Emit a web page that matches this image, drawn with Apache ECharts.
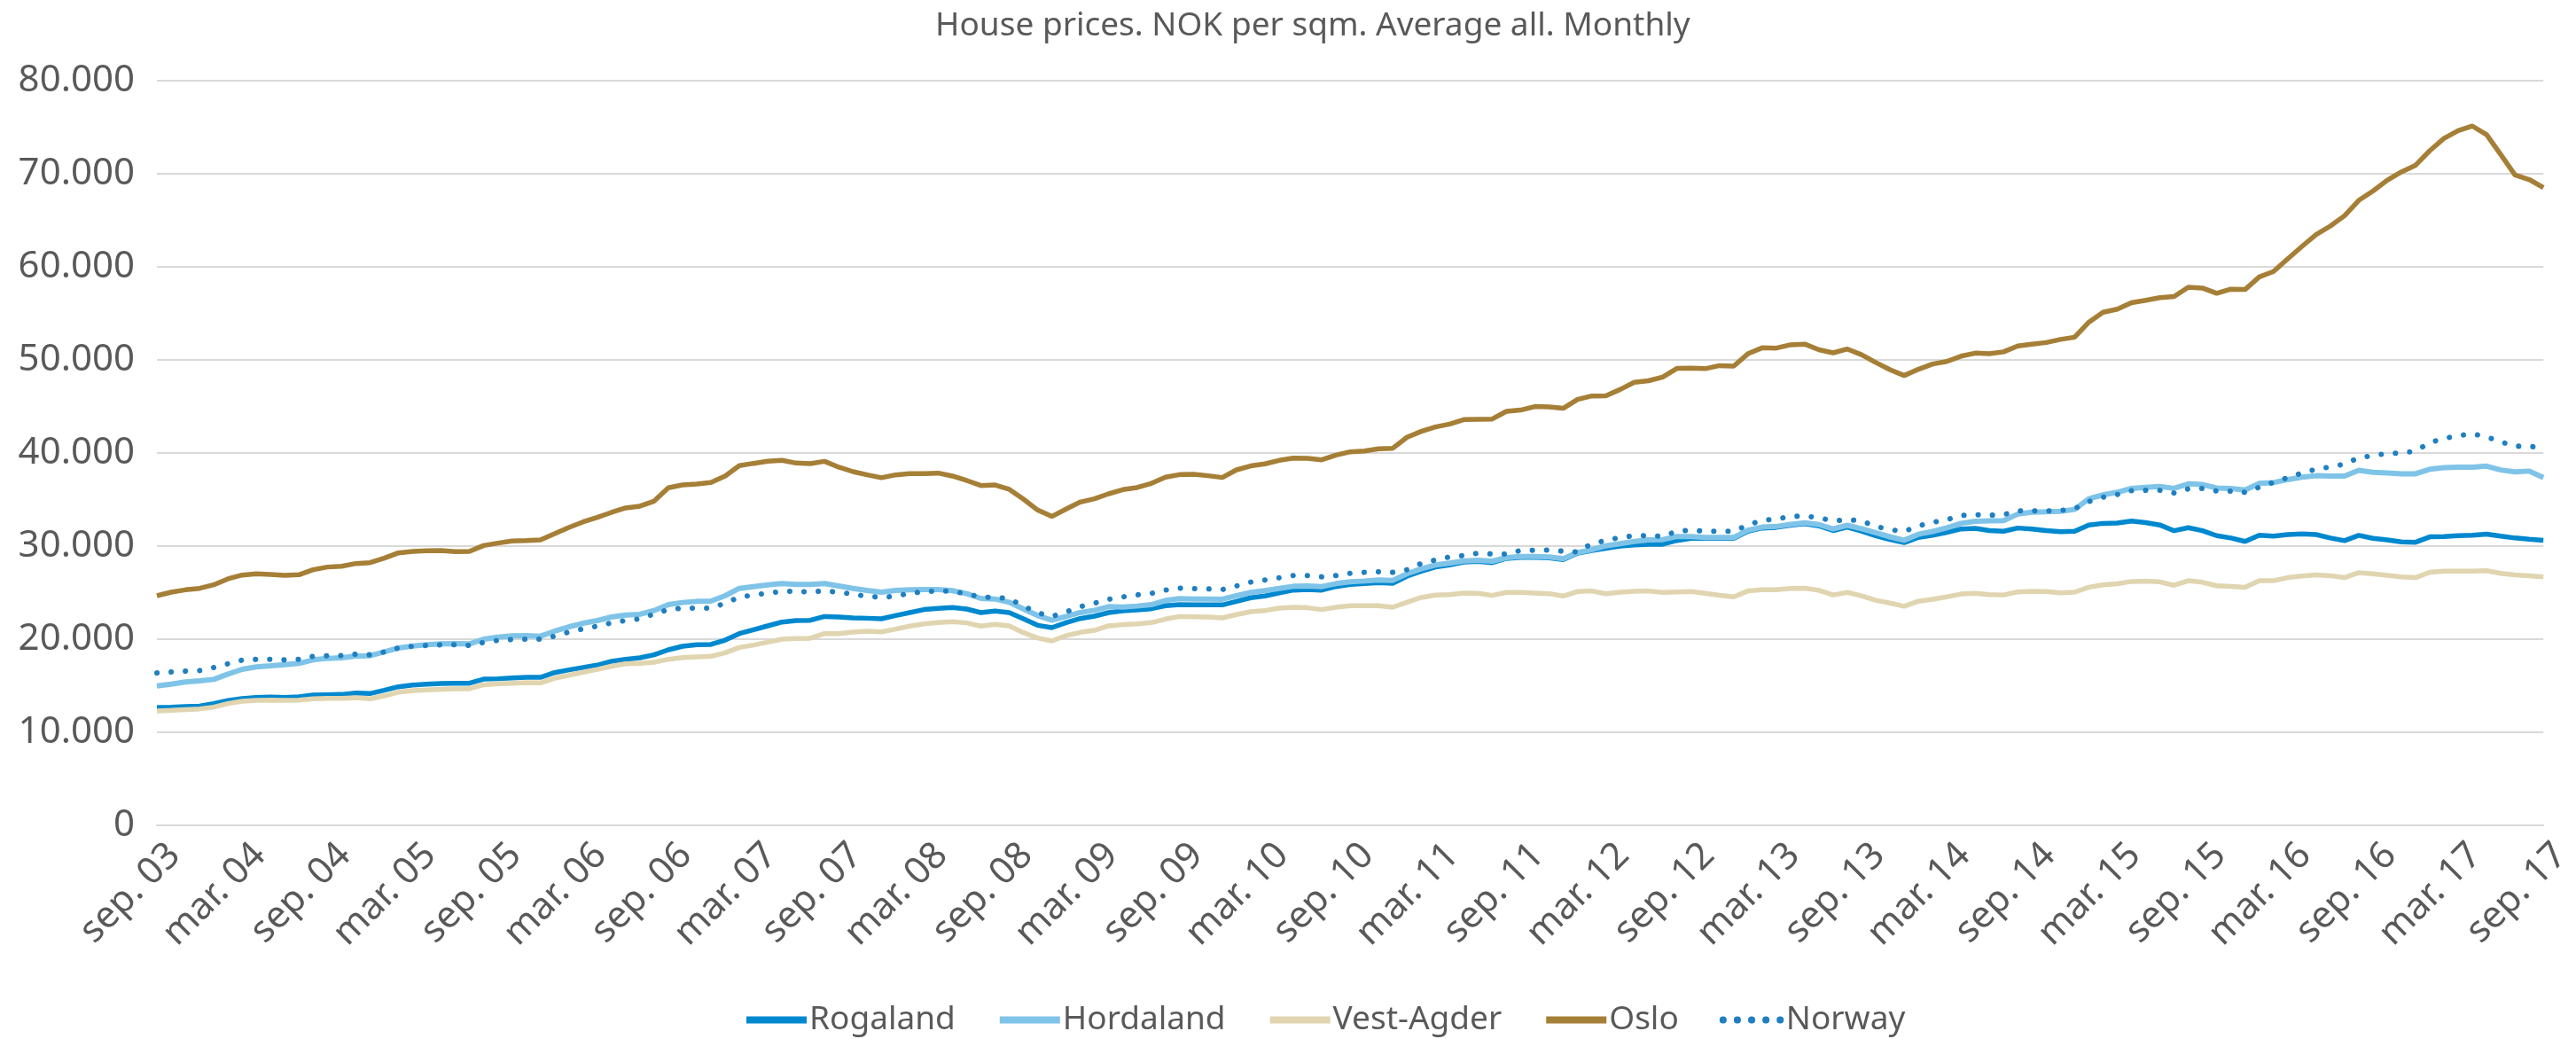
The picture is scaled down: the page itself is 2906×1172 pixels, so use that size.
<!DOCTYPE html>
<html>
<head>
<meta charset="utf-8">
<title>House prices. NOK per sqm. Average all. Monthly</title>
<script src="https://cdn.jsdelivr.net/npm/echarts@6/dist/echarts.min.js"></script>
<style>
  html, body { margin: 0; padding: 0; background: #fff; }
  #chart { width: 2906px; height: 1172px; }
</style>
</head>
<body>
<div id="chart"></div>
<script>
// month labels (Norwegian short names), series runs sep. 03 -> sep. 17
const monthNames = ["jan.", "feb.", "mar.", "apr.", "mai", "jun.", "jul.", "aug.", "sep.", "okt.", "nov.", "des."];
const startYear = 2003;
const startMonth = 8; // sep.
const monthCount = 169;

const yTicks = [0, 10000, 20000, 30000, 40000, 50000, 60000, 70000, 80000];

const rogaland = [
  12670, 12700, 12760, 12820, 13080, 13400, 13620, 13750, 13780, 13750, 13810, 14000, 14030, 14060, 14220, 14160, 14510, 14890, 15080, 15170, 15240, 15270, 15270, 15710, 15750, 15840, 15900, 15900, 16410, 16700, 16950, 17210, 17620, 17840,
  18000, 18320, 18860, 19240, 19400, 19430, 19900, 20600, 21020, 21430, 21840, 22000, 22030, 22440, 22380, 22290, 22250, 22190, 22540, 22860, 23180, 23300, 23400, 23240, 22860, 23020, 22860, 22190, 21490, 21240, 21780, 22220, 22480, 22860,
  23050, 23140, 23270, 23590, 23710, 23680, 23680, 23680, 24060, 24450, 24640, 24980, 25270, 25330, 25270, 25650, 25870, 25970, 26060, 26000, 26760, 27300, 27750, 27970, 28290, 28350, 28220, 28670, 28790, 28790, 28730, 28540, 29240, 29530,
  29760, 30000, 30130, 30200, 30200, 30600, 30830, 30830, 30830, 30830, 31600, 31940, 32010, 32240, 32410, 32170, 31670, 32040, 31600, 31100, 30700, 30370, 30930, 31170, 31470, 31840, 31900, 31670, 31600, 31940, 31840, 31670, 31540, 31600,
  32270, 32440, 32480, 32690, 32520, 32270, 31650, 31980, 31650, 31120, 30870, 30500, 31160, 31070, 31240, 31320, 31240, 30870, 30580, 31160, 30830, 30660, 30450, 30410, 30990, 31030, 31120, 31160, 31280, 31070, 30870, 30740, 30620
];

const hordaland = [
  14980, 15170, 15400, 15520, 15680, 16250, 16760, 17020, 17140, 17270, 17400, 17780, 17940, 18000, 18190, 18220, 18630, 19050, 19270, 19400, 19490, 19520, 19490, 20000, 20220, 20350, 20380, 20320, 20860, 21330, 21710, 22000, 22380, 22600,
  22670, 23080, 23710, 23940, 24060, 24100, 24670, 25460, 25650, 25840, 25970, 25870, 25870, 25970, 25720, 25460, 25240, 25050, 25240, 25300, 25330, 25330, 25210, 24890, 24380, 24320, 23970, 23240, 22540, 22030, 22440, 22860, 23110, 23490,
  23460, 23560, 23710, 24160, 24350, 24320, 24320, 24290, 24670, 25020, 25210, 25460, 25680, 25720, 25650, 25970, 26160, 26250, 26350, 26320, 27020, 27560, 27970, 28160, 28410, 28480, 28380, 28760, 28890, 28890, 28830, 28640, 29300, 29620,
  30030, 30270, 30500, 30670, 30700, 31030, 31030, 30930, 30930, 30930, 31700, 32040, 32110, 32340, 32510, 32310, 31840, 32240, 31870, 31440, 31000, 30630, 31270, 31570, 31970, 32440, 32670, 32710, 32740, 33440, 33640, 33680, 33740, 33940,
  35080, 35500, 35780, 36200, 36320, 36400, 36200, 36690, 36610, 36240, 36200, 36030, 36730, 36820, 37150, 37400, 37560, 37520, 37520, 38140, 37930, 37850, 37770, 37770, 38260, 38430, 38470, 38470, 38590, 38180, 37970, 38060, 37350
];

const vestAgder = [
  12280, 12350, 12440, 12510, 12700, 13080, 13330, 13430, 13460, 13440, 13460, 13600, 13650, 13650, 13710, 13600, 13900, 14300, 14480, 14550, 14620, 14670, 14670, 15100, 15210, 15270, 15330, 15300, 15800, 16120, 16450, 16750, 17100, 17360,
  17400, 17520, 17840, 18030, 18100, 18160, 18540, 19110, 19370, 19680, 20000, 20060, 20100, 20600, 20600, 20760, 20860, 20790, 21080, 21400, 21650, 21780, 21870, 21750, 21400, 21590, 21430, 20700, 20130, 19810, 20380, 20730, 20950, 21430,
  21560, 21650, 21780, 22160, 22440, 22410, 22380, 22290, 22640, 22950, 23080, 23330, 23430, 23370, 23180, 23430, 23590, 23590, 23590, 23430, 23970, 24480, 24730, 24790, 24950, 24920, 24700, 25020, 25020, 24950, 24890, 24640, 25110, 25180,
  24880, 25050, 25150, 25180, 25020, 25080, 25120, 24920, 24720, 24550, 25180, 25320, 25320, 25450, 25480, 25250, 24750, 25020, 24650, 24180, 23880, 23540, 24080, 24280, 24550, 24850, 24920, 24780, 24750, 25080, 25150, 25120, 24980, 25050,
  25580, 25830, 25950, 26200, 26240, 26160, 25790, 26280, 26110, 25740, 25660, 25580, 26280, 26280, 26610, 26780, 26900, 26820, 26610, 27150, 27020, 26860, 26690, 26610, 27190, 27310, 27310, 27310, 27350, 27070, 26900, 26820, 26690
];

const oslo = [
  24670, 25050, 25300, 25460, 25840, 26480, 26890, 27020, 26950, 26860, 26920, 27460, 27750, 27840, 28130, 28220, 28700, 29270, 29430, 29490, 29520, 29400, 29430, 30060, 30320, 30540, 30600, 30670, 31330, 32000, 32600, 33080, 33620, 34100,
  34290, 34830, 36260, 36570, 36670, 36830, 37530, 38640, 38890, 39110, 39210, 38920, 38860, 39110, 38480, 38000, 37650, 37340, 37650, 37780, 37780, 37840, 37530, 37050, 36510, 36570, 36100, 35050, 33870, 33180, 33970, 34730, 35080, 35620,
  36070, 36290, 36730, 37400, 37680, 37720, 37560, 37370, 38190, 38610, 38830, 39210, 39460, 39430, 39270, 39780, 40130, 40220, 40450, 40510, 41690, 42320, 42800, 43110, 43590, 43620, 43650, 44480, 44610, 44990, 44960, 44800, 45750, 46130,
  46150, 46820, 47590, 47760, 48160, 49090, 49130, 49060, 49390, 49330, 50660, 51300, 51270, 51630, 51700, 51100, 50760, 51170, 50560, 49730, 48960, 48320, 48990, 49560, 49830, 50400, 50730, 50660, 50870, 51500, 51700, 51870, 52200, 52440,
  54050, 55120, 55450, 56150, 56400, 56690, 56810, 57810, 57720, 57150, 57600, 57560, 58920, 59500, 60860, 62190, 63470, 64380, 65490, 67140, 68140, 69300, 70200, 70910, 72480, 73800, 74630, 75120, 74210, 72060, 69870, 69380, 68510
];

const norway = [
  16380, 16480, 16570, 16630, 16950, 17360, 17750, 17840, 17840, 17780, 17840, 18160, 18220, 18250, 18380, 18320, 18630, 19050, 19240, 19330, 19400, 19400, 19330, 19650, 19870, 19970, 20000, 20000, 20320, 20760, 21110, 21400, 21750, 22000,
  22190, 22700, 23180, 23330, 23330, 23330, 23870, 24510, 24760, 24950, 25140, 25140, 25080, 25180, 25050, 24830, 24600, 24510, 24600, 24950, 25080, 25210, 25140, 24890, 24510, 24510, 24350, 23560, 22830, 22440, 22920, 23490, 23870, 24290,
  24540, 24760, 24920, 25270, 25490, 25430, 25400, 25330, 25720, 26130, 26350, 26600, 26830, 26830, 26700, 26830, 27080, 27180, 27240, 27180, 27460, 28130, 28510, 28830, 28990, 29240, 29140, 29140, 29530, 29560, 29560, 29460, 29370, 30260,
  30600, 30930, 31100, 31140, 31040, 31600, 31700, 31600, 31600, 31600, 32270, 32770, 32910, 33180, 33240, 33040, 32710, 32840, 32710, 32110, 31770, 31570, 32170, 32540, 32840, 33280, 33380, 33310, 33380, 33780, 33780, 33780, 33810, 34010,
  34790, 35250, 35540, 35950, 35990, 35990, 35700, 36160, 36200, 35910, 35910, 35780, 36320, 36860, 37350, 37850, 38260, 38510, 38800, 39500, 39710, 39960, 40000, 40210, 41120, 41570, 41860, 42070, 41730, 41200, 40740, 40700, 40620
];

const months = [];
for (let i = 0; i < monthCount; i++) {
  const m = startMonth + i;
  const yy = (startYear + Math.floor(m / 12)) % 100;
  months.push(monthNames[m % 12] + " " + String(yy).padStart(2, "0"));
}

const font = "Noto Sans";
const grey = "#595959";

const chart = echarts.init(document.getElementById("chart"));
chart.setOption({
  animation: false,
  backgroundColor: "#ffffff",
  textStyle: { fontFamily: font },
  title: {
    text: "House prices. NOK per sqm. Average all. Monthly",
    left: 1050,
    top: 6,
    textStyle: { fontFamily: font, fontSize: 37, fontWeight: "normal", color: grey }
  },
  legend: {
    left: 838,
    top: 1132,
    padding: 0,
    itemGap: 46,
    itemWidth: 68,
    itemHeight: 24,
    itemStyle: { opacity: 0 },
    lineStyle: { width: 8 },
    textStyle: { fontFamily: font, fontSize: 37, color: grey, padding: [0, 0, 0, -2] },
    data: ["Rogaland", "Hordaland", "Vest-Agder", "Oslo", "Norway"]
  },
  grid: { left: 177, right: 0, top: 91, bottom: 241, containLabel: false },
  xAxis: {
    type: "category",
    data: months,
    boundaryGap: false,
    axisLine: { show: true, lineStyle: { color: "#d9d9d9", width: 2 } },
    axisTick: { show: false },
    axisLabel: {
      interval: 5,
      rotate: 45,
      margin: 47,
      // nudge the rotated labels to the right, like the original
      padding: [44, -28, 0, 0],
      fontFamily: font,
      fontSize: 42,
      color: grey
    },
    splitLine: { show: false }
  },
  yAxis: {
    type: "value",
    min: yTicks[0],
    max: yTicks[yTicks.length - 1],
    interval: yTicks[1] - yTicks[0],
    axisLine: { show: false },
    axisTick: { show: false },
    axisLabel: {
      margin: 25,
      fontFamily: font,
      fontSize: 42,
      color: grey,
      formatter: (v) => (v === 0 ? "0" : v / 1000 + ".000")
    },
    splitLine: { lineStyle: { color: "#d9d9d9", width: 2 } }
  },
  series: [
    {
      name: "Rogaland", type: "line", data: rogaland, symbol: "none",
      lineStyle: { color: "#0088cf", width: 5.5 }, itemStyle: { color: "#0088cf" }
    },
    {
      name: "Hordaland", type: "line", data: hordaland, symbol: "none",
      lineStyle: { color: "#7fc4e8", width: 6 }, itemStyle: { color: "#7fc4e8" }
    },
    {
      name: "Vest-Agder", type: "line", data: vestAgder, symbol: "none",
      lineStyle: { color: "#e0d5b0", width: 5.5 }, itemStyle: { color: "#e0d5b0" }
    },
    {
      name: "Oslo", type: "line", data: oslo, symbol: "none",
      lineStyle: { color: "#a67f37", width: 5.5 }, itemStyle: { color: "#a67f37" }
    },
    {
      name: "Norway", type: "line", data: norway, symbol: "none",
      lineStyle: { color: "#1f7fc0", width: 6, type: [0.1, 16], cap: "round" },
      itemStyle: { color: "#1f7fc0" }
    }
  ]
});
</script>
</body>
</html>
